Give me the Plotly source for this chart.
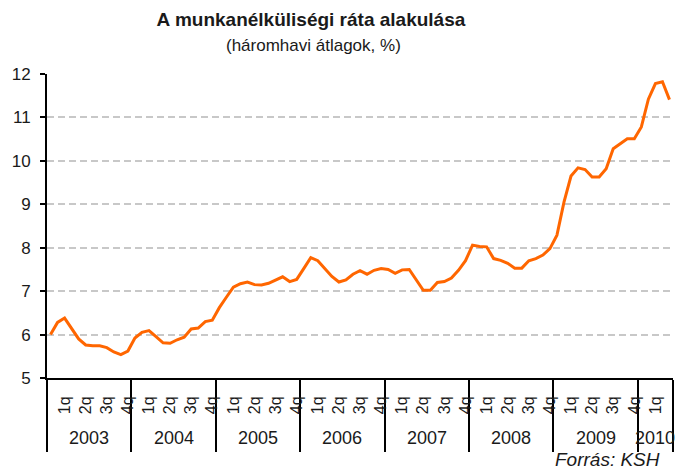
import plotly.graph_objects as go

# three-month averages, Jan 2003 .. May 2010 (%)
years = ["2003", "2004", "2005", "2006", "2007", "2008", "2009", "2010"]
months_per_year = [12, 12, 12, 12, 12, 12, 12, 5]
quarters = ["1q", "2q", "3q", "4q"]
rate = [
    6.00, 6.28, 6.38, 6.15, 5.90, 5.76, 5.74, 5.74, 5.70, 5.60, 5.54, 5.62,
    5.92, 6.05, 6.09, 5.95, 5.81, 5.80, 5.88, 5.94, 6.13, 6.15, 6.30, 6.33,
    6.62, 6.86, 7.09, 7.17, 7.21, 7.15, 7.14, 7.18, 7.26, 7.33, 7.22, 7.27,
    7.52, 7.77, 7.70, 7.52, 7.34, 7.21, 7.26, 7.39, 7.47, 7.39, 7.48, 7.52,
    7.50, 7.41, 7.49, 7.50, 7.25, 7.02, 7.02, 7.20, 7.22, 7.30, 7.48, 7.70,
    8.06, 8.03, 8.02, 7.75, 7.71, 7.64, 7.53, 7.53, 7.70, 7.75, 7.83, 7.98,
    8.29, 9.05, 9.65, 9.84, 9.80, 9.63, 9.63, 9.82, 10.28, 10.40, 10.51, 10.51,
    10.78, 11.42, 11.78, 11.82, 11.41,
]

x = list(range(len(rate)))

# quarter labels sit on the last month of each quarter, years get dividers
q_pos, q_text = [], []
year_bounds = [-0.5]
year_mid = []
start = 0
for n in months_per_year:
    for q in range(n // 3):
        q_pos.append(start + 3 * q + 2)
        q_text.append(quarters[q])
    year_mid.append(start + (n - 1) / 2)
    start += n
    year_bounds.append(start - 0.5)

FONT = "Liberation Sans, Arial, sans-serif"

fig = go.Figure(go.Scatter(x=x, y=rate, mode="lines",
                           line=dict(color="#FF6600", width=3)))

fig.update_layout(
    width=679, height=472,
    margin=dict(l=47, r=6, t=74, b=94),
    paper_bgcolor="white", plot_bgcolor="white",
    font=dict(family=FONT, color="#1a1a1a"),
    showlegend=False,
    title=dict(text="<b>A munkanélküliségi ráta alakulása</b>",
               x=0.458, y=0.958, xanchor="center", yanchor="middle",
               font=dict(size=19, color="#1a1a1a")),
)

fig.update_xaxes(
    range=[-0.5, len(rate) - 0.5],
    tickmode="array", tickvals=q_pos, ticktext=q_text, tickangle=-90,
    ticks="", tickfont=dict(size=16), ticklabelstandoff=10,
    showline=True, linecolor="black", linewidth=2,
    showgrid=False, zeroline=False,
    minor=dict(tickmode="array", tickvals=year_bounds, ticks="outside",
               ticklen=72, tickwidth=2, tickcolor="black", showgrid=False),
)

fig.update_yaxes(
    range=[5, 12], dtick=1, tick0=5,
    ticks="outside", ticklen=5, tickwidth=2, tickcolor="black",
    tickfont=dict(size=17), ticklabelstandoff=6,
    showline=True, linecolor="black", linewidth=2,
    showgrid=True, gridcolor="#C8C8C8", gridwidth=1.5, griddash="7px,4px",
    zeroline=False,
)

for yr, xm in zip(years, year_mid):
    fig.add_annotation(x=xm, y=0, xref="x", yref="paper", text=yr,
                       showarrow=False, yshift=-60, yanchor="middle",
                       font=dict(size=18))

fig.add_annotation(x=0.425, y=1.095, xref="paper", yref="paper",
                   text="(háromhavi átlagok, %)", showarrow=False,
                   yanchor="middle", font=dict(size=17))
fig.add_annotation(x=0.983, y=0, xref="paper", yref="paper", xanchor="right",
                   text="<i>Forrás: KSH</i>", showarrow=False, yshift=-81,
                   yanchor="middle", font=dict(size=19))

fig.write_html("out.html", config={"displayModeBar": False},
               post_script="document.body.style.margin='0px';")
